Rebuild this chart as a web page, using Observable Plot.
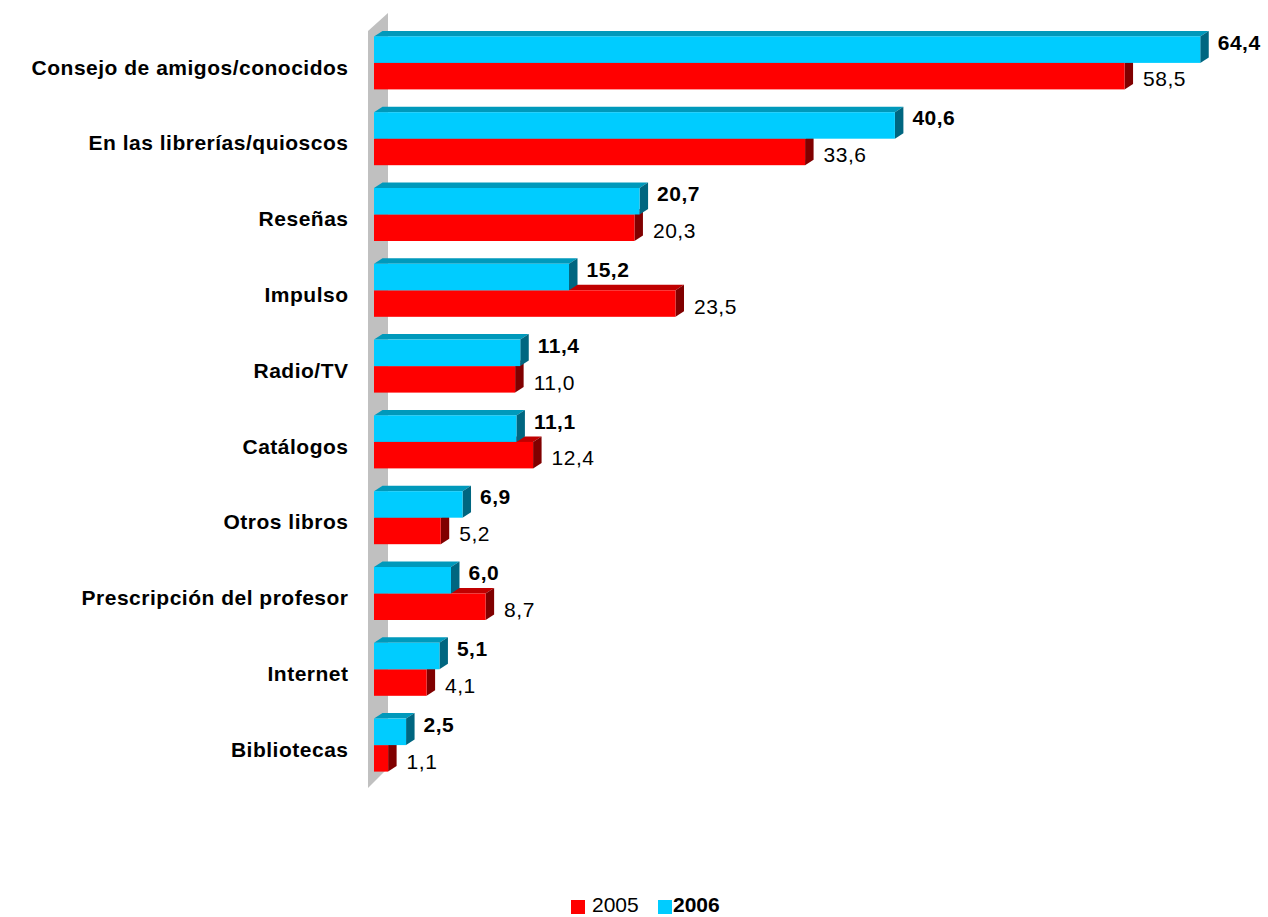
<!DOCTYPE html>
<html>
<head>
<meta charset="utf-8">
<script src="https://cdn.jsdelivr.net/npm/d3@7"></script>
<script src="https://cdn.jsdelivr.net/npm/@observablehq/plot@0.6"></script>
<style>
  body { margin: 0; background: #fff; font-family: "Liberation Sans", Arial, sans-serif; }
  #chart svg text { letter-spacing: 0.5px; }
  #legend { position: relative; width: 1268px; height: 27px; }
  #legend .sw { position: absolute; width: 14px; height: 14px; top: 10px; }
  #legend .lb { position: absolute; top: 4px; font-size: 21px; line-height: 21px; color: #000; }
</style>
</head>
<body>
<div id="chart"></div>
<div id="legend"></div>
<script>
const categories = [
  "Consejo de amigos/conocidos",
  "En las librerías/quioscos",
  "Reseñas",
  "Impulso",
  "Radio/TV",
  "Catálogos",
  "Otros libros",
  "Prescripción del profesor",
  "Internet",
  "Bibliotecas"
];
const values2006 = [64.4, 40.6, 20.7, 15.2, 11.4, 11.1, 6.9, 6.0, 5.1, 2.5];
const values2005 = [58.5, 33.6, 20.3, 23.5, 11.0, 12.4, 5.2, 8.7, 4.1, 1.1];
const seriesNames = ["2005", "2006"];

const rows2006 = categories.map((cat, i) => ({cat, v: values2006[i]}));
const rows2005 = categories.map((cat, i) => ({cat, v: values2005[i]}));

// geometry / style constants
const BAND = 75.8, BAR = 26.5, PAD = (BAND - 2 * BAR) / 2;
const DX = 8.5, DY = -5.5;
const colors = {
  "2006": {front: "#00CCFF", top: "#0099BB", side: "#006680"},
  "2005": {front: "#FF0000", top: "#C00000", side: "#800000"}
};
const fmt = v => v.toFixed(1).replace(".", ",");

// 3D faces (top + right side) drawn through the plot's scales
function faces(rows, c, offsetTop) {
  return (index, scales) => {
    const {x, y} = scales;
    const g = d3.create("svg:g");
    for (const d of rows) {
      const x0 = x(0), x1 = x(d.v);
      const y0 = y(d.cat) + offsetTop, y1 = y0 + BAR;
      g.append("path")
        .attr("d", `M${x0},${y0}L${x0 + DX},${y0 + DY}L${x1 + DX},${y0 + DY}L${x1},${y0}Z`)
        .attr("fill", c.top);
      g.append("path")
        .attr("d", `M${x1},${y0}L${x1 + DX},${y0 + DY}L${x1 + DX},${y1 + DY}L${x1},${y1}Z`)
        .attr("fill", c.side);
    }
    return g.node();
  };
}

// gray left wall
function wall(index, scales) {
  const {x, y} = scales;
  const [yt, yb] = y.range();
  const xl = x(0) - 6, xr = x(0) + 14;
  return d3.create("svg:path")
    .attr("d", `M${xl},${yt + 6}L${xr},${yt - 12}L${xr},${yb - 15}L${xl},${yb + 5}Z`)
    .attr("fill", "#C0C0C0")
    .node();
}

const chart = Plot.plot({
  width: 1268,
  height: 890,
  marginLeft: 0,
  marginRight: 0,
  marginTop: 0,
  marginBottom: 0,
  style: {fontFamily: "'Liberation Sans', Arial, sans-serif", fontSize: "21px", background: "#fff", color: "#000"},
  x: {domain: [0, 65], range: [374, 374 + 65 * 12.83], axis: null},
  y: {domain: categories, range: [25, 25 + BAND * categories.length], padding: 0, round: false, axis: null},
  marks: [
    wall,
    faces(rows2005, colors["2005"], PAD + BAR),
    Plot.barX(rows2005, {x: "v", y: "cat", fill: colors["2005"].front, insetTop: PAD + BAR, insetBottom: PAD}),
    faces(rows2006, colors["2006"], PAD),
    Plot.barX(rows2006, {x: "v", y: "cat", fill: colors["2006"].front, insetTop: PAD, insetBottom: PAD + BAR}),
    Plot.text(rows2006, {x: "v", y: "cat", text: d => fmt(d.v), textAnchor: "start", dx: 17, dy: -BAR + 6, fontWeight: "bold", fill: "#000"}),
    Plot.text(rows2005, {x: "v", y: "cat", text: d => fmt(d.v), textAnchor: "start", dx: 18, dy: BAR / 2 + 3, fill: "#000"}),
    Plot.text(categories, {x: () => 0, y: d => d, text: d => d, textAnchor: "end", dx: -26, dy: 4.5, fontWeight: "bold", fill: "#000"})
  ]
});
document.getElementById("chart").appendChild(chart);

// legend
const legend = d3.select("#legend");
legend.append("div").attr("class", "sw").style("left", "571px").style("background", colors["2005"].front);
legend.append("div").attr("class", "lb").style("left", "592px").text(seriesNames[0]);
legend.append("div").attr("class", "sw").style("left", "658px").style("background", colors["2006"].front);
legend.append("div").attr("class", "lb").style("left", "673px").style("font-weight", "bold").text(seriesNames[1]);
</script>
</body>
</html>
